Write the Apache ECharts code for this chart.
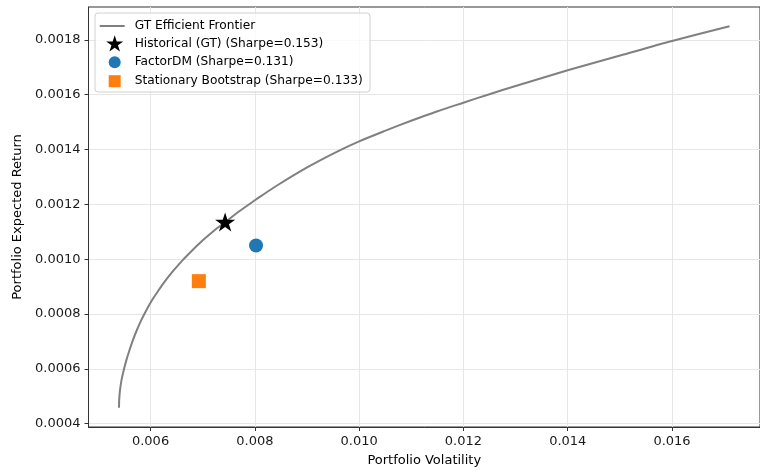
<!DOCTYPE html>
<html>
<head>
<meta charset="utf-8">
<script src="https://cdn.jsdelivr.net/npm/echarts@6/dist/echarts.min.js"></script>
<style>
  html, body { margin: 0; padding: 0; background: #ffffff; }
  #chart { width: 760px; height: 472px; }
</style>
</head>
<body>
<div id="chart"></div>
<script>
// Efficient frontier (volatility, expected return)
const frontierVol = [0.005395, 0.005398, 0.005413, 0.005442, 0.005484, 0.005535, 0.005594, 0.005660,
  0.005734, 0.005820, 0.005917, 0.006027, 0.006151, 0.006289, 0.006442, 0.006612, 0.006798,
  0.007001, 0.007222, 0.007429, 0.007631, 0.007858, 0.008015, 0.008425, 0.009011, 0.009560,
  0.010000, 0.010505, 0.010996, 0.011488, 0.011998, 0.012499, 0.013000, 0.014015, 0.015004,
  0.016000, 0.017102];
const frontierRet = [0.000458, 0.000485, 0.000521, 0.000558, 0.000594, 0.000631, 0.000667, 0.000704,
  0.000740, 0.000777, 0.000813, 0.000850, 0.000886, 0.000923, 0.000959, 0.000996, 0.001032,
  0.001069, 0.001105, 0.001135, 0.001165, 0.001196, 0.001217, 0.001269, 0.001336, 0.001391,
  0.001430, 0.001469, 0.001505, 0.001539, 0.001571, 0.001602, 0.001632, 0.001690, 0.001743,
  0.001796, 0.001850];

// Portfolios
const pointNames = ['Historical (GT)', 'FactorDM', 'Stationary Bootstrap'];
const pointVol = [0.00743, 0.008023, 0.006926];
const pointRet = [0.001136, 0.00105, 0.00092];

// Axis ticks
const xTicks = [0.006, 0.008, 0.010, 0.012, 0.014, 0.016];
const yTicks = [0.0004, 0.0006, 0.0008, 0.0010, 0.0012, 0.0014, 0.0016, 0.0018];

const FONT = 'DejaVu Sans';
const frontierName = 'GT Efficient Frontier';
const labels = pointNames.map((n, i) => n + ' (Sharpe=' + (pointRet[i] / pointVol[i]).toFixed(3) + ')');

// five-pointed star symbol
function starPath() {
  const R = 1, r = 0.381966;
  let d = '';
  for (let k = 0; k < 10; k++) {
    const a = -Math.PI / 2 + k * Math.PI / 5;
    const rad = k % 2 === 0 ? R : r;
    d += (k === 0 ? 'M' : 'L') + (rad * Math.cos(a)).toFixed(4) + ' ' + (rad * Math.sin(a)).toFixed(4) + ' ';
  }
  return 'path://' + d + 'Z';
}
const STAR = starPath();

const markerStyles = [
  { symbol: STAR, size: [20, 19], color: '#000000' },
  { symbol: 'circle', size: 14, color: '#1f77b4' },
  { symbol: 'rect', size: 14, color: '#ff7f0e' }
];

const scatterSeries = pointNames.map((n, i) => ({
  name: labels[i],
  type: 'scatter',
  symbol: markerStyles[i].symbol,
  symbolSize: markerStyles[i].size,
  itemStyle: { color: markerStyles[i].color, opacity: 1 },
  z: 5,
  data: [[pointVol[i], pointRet[i]]]
}));

// one legend per row so each handle can have its own size
const legendRows = [
  { name: frontierName, icon: 'path://M0 0 H25 V2 H0 Z', left: 99.7, top: 20, w: 25, h: 12, pad: 5 },
  { name: labels[0], left: 106.2, top: 35.3, w: 17, h: 17, pad: 6.5 },
  { name: labels[1], left: 108.7, top: 56.3, w: 12, h: 12, pad: 9 },
  { name: labels[2], left: 108.7, top: 75.2, w: 12, h: 12, pad: 9 }
];

const legends = legendRows.map(r => ({
  data: [r.icon ? { name: r.name, icon: r.icon } : r.name],
  left: r.left,
  top: r.top,
  orient: 'vertical',
  padding: 0,
  itemWidth: r.w,
  itemHeight: r.h,
  itemGap: 0,
  symbolKeepAspect: true,
  selectedMode: false,
  z: 6,
  textStyle: { fontFamily: FONT, fontSize: 12.2, color: '#000000', lineHeight: 12, padding: [0, 0, 0, r.pad] }
}));

const chart = echarts.init(document.getElementById('chart'), null, { renderer: 'canvas' });
chart.setOption({
  animation: false,
  backgroundColor: '#ffffff',
  grid: {
    left: 88.5, right: -10, top: 7, bottom: 45,
    show: true, borderColor: '#333333', borderWidth: 1, backgroundColor: 'transparent'
  },
  legend: legends,
  graphic: [{
    type: 'rect',
    z: 5,
    shape: { x: 95, y: 13, width: 275, height: 79, r: 3 },
    style: { fill: 'rgba(255,255,255,0.8)', stroke: '#d0d0d0', lineWidth: 1 }
  }],
  xAxis: {
    type: 'value',
    min: 0.00481,
    max: 0.017687,
    name: 'Portfolio Volatility',
    nameLocation: 'middle',
    nameGap: 27,
    nameTextStyle: { fontFamily: FONT, fontSize: 13, color: '#000000' },
    axisLine: { show: true, onZero: false, lineStyle: { color: '#333333', width: 1 } },
    axisTick: { show: true, length: 4, customValues: xTicks, lineStyle: { color: '#333333' } },
    axisLabel: {
      customValues: xTicks, margin: 8,
      fontFamily: FONT, fontSize: 13, color: '#1a1a1a',
      formatter: v => v.toFixed(3)
    },
    splitLine: { show: true, lineStyle: { color: '#e6e6e6', width: 1 } }
  },
  yAxis: {
    type: 'value',
    min: 0.000388,
    max: 0.00192,
    name: 'Portfolio Expected Return',
    nameLocation: 'middle',
    nameGap: 64,
    nameRotate: 90,
    nameTextStyle: { fontFamily: FONT, fontSize: 13, color: '#000000' },
    axisLine: { show: true, onZero: false, lineStyle: { color: '#333333', width: 1 } },
    axisTick: { show: true, length: 4, customValues: yTicks, lineStyle: { color: '#333333' } },
    axisLabel: {
      customValues: yTicks, margin: 8,
      fontFamily: FONT, fontSize: 13, color: '#1a1a1a',
      formatter: v => v.toFixed(4)
    },
    splitLine: { show: true, lineStyle: { color: '#e6e6e6', width: 1 } }
  },
  series: [
    {
      name: frontierName,
      type: 'line',
      symbol: 'none',
      smooth: 0.3,
      lineStyle: { color: '#808080', width: 2 },
      itemStyle: { color: '#808080' },
      z: 3,
      data: frontierVol.map((v, i) => [v, frontierRet[i]])
    },
    ...scatterSeries
  ]
});
</script>
</body>
</html>
